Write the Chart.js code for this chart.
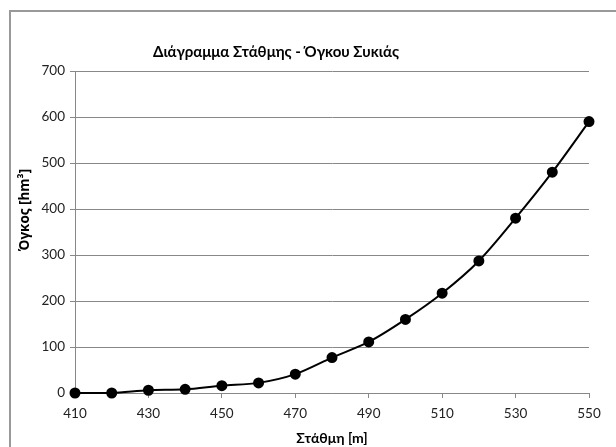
<!DOCTYPE html>
<html>
<head>
<meta charset="utf-8">
<script src="https://cdn.jsdelivr.net/npm/chart.js@4/dist/chart.umd.min.js"></script>
<style>
  body { margin: 0; background: #fff; }
  #wrap { width: 616px; height: 447px; }
</style>
</head>
<body>
<div id="wrap"><canvas id="grafico" width="616" height="447"></canvas></div>
<script>
// Δεδομένα: στάθμη (m) και όγκος (hm³)
const stathmi = [410, 420, 430, 440, 450, 460, 470, 480, 490, 500, 510, 520, 530, 540, 550];
const ogkos = [0, 0, 6, 8, 16, 22, 41, 77, 111, 160, 217, 287, 380, 480, 590];
const xTicks = [410, 430, 450, 470, 490, 510, 530, 550];
const yTicks = [0, 100, 200, 300, 400, 500, 600, 700];
const titlos = 'Διάγραμμα Στάθμης - Όγκου Συκιάς';
const titlosY = 'Όγκος [hm³]';
const titlosX = 'Στάθμη [m]';

const grammi = '#888888';
const fontFam = 'Lato, "Open Sans", sans-serif';

// πλαίσιο (μόνο πάνω και αριστερά φαίνεται) και τίτλοι
const plaisio = {
    id: 'plaisio',
    beforeDraw(chart) {
        const ctx = chart.ctx;
        ctx.save();
        ctx.strokeStyle = '#999';
        ctx.lineWidth = 2;
        ctx.beginPath();
        ctx.moveTo(10, 447);
        ctx.lineTo(10, 11);
        ctx.lineTo(616, 11);
        ctx.stroke();
        ctx.restore();
    },
    afterDraw(chart) {
        const ctx = chart.ctx;
        ctx.save();
        ctx.fillStyle = '#000';
        ctx.textAlign = 'center';
        ctx.textBaseline = 'middle';
        ctx.font = 'bold 15px ' + fontFam;
        ctx.fillText(titlos, 276, 52);
        ctx.translate(25, 210);
        ctx.rotate(-Math.PI / 2);
        ctx.font = 'bold 13.5px "Open Sans", sans-serif';
        ctx.fillText(titlosY, 0, 0);
        ctx.restore();
    }
};

new Chart(document.getElementById('grafico'), {
    type: 'line',
    data: {
        datasets: [{
            data: stathmi.map((x, i) => ({ x: x, y: ogkos[i] })),
            borderColor: '#000',
            backgroundColor: '#000',
            borderWidth: 2,
            pointRadius: 4.5,
            pointBackgroundColor: '#000',
            tension: 0.3,
            clip: false
        }]
    },
    options: {
        responsive: false,
        animation: false,
        layout: { padding: { left: 9, right: 27, top: 71, bottom: 0 } },
        plugins: {
            legend: { display: false },
            tooltip: { enabled: false }
        },
        scales: {
            x: {
                type: 'linear',
                min: 410,
                max: 550,
                afterBuildTicks: s => { s.ticks = xTicks.map(v => ({ value: v })); },
                afterFit: s => { s.height = 54; },
                grid: { drawOnChartArea: false, drawTicks: true, tickLength: 5, color: grammi },
                border: { color: grammi, width: 1 },
                ticks: { color: '#222', font: { family: fontFam, size: 13.5 }, padding: 8, maxRotation: 0 },
                title: {
                    display: true,
                    text: titlosX,
                    color: '#000',
                    font: { family: fontFam, size: 14, weight: 'bold' },
                    padding: { top: 2, bottom: 0 }
                }
            },
            y: {
                min: 0,
                max: 700,
                afterBuildTicks: s => { s.ticks = yTicks.map(v => ({ value: v })); },
                afterFit: s => { s.width = 66; },
                grid: { color: grammi, tickLength: 5 },
                border: { color: grammi, width: 1 },
                ticks: { color: '#222', font: { family: fontFam, size: 13.5 }, padding: 5 }
            }
        }
    },
    plugins: [plaisio]
});
</script>
</body>
</html>
